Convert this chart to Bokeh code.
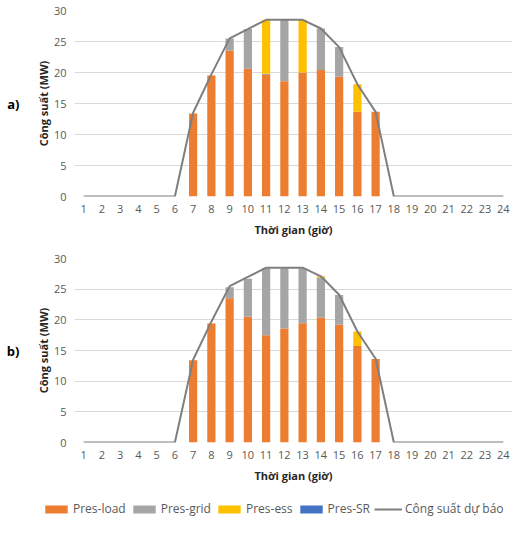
from bokeh.plotting import figure
from bokeh.models import (ColumnDataSource, Range1d, FixedTicker, Legend, LegendItem,
                          LinearAxis)
from bokeh.layouts import column
from bokeh.embed import file_html
from bokeh.resources import INLINE

# ---------------- data ----------------
hours = list(range(1, 25))
tick_labels = [str(h) for h in hours]

forecast = [0, 0, 0, 0, 0, 0, 13.5, 19.7, 25.5, 27.0, 28.5, 28.5,
            28.5, 27.1, 24.1, 18.1, 13.65, 0, 0, 0, 0, 0, 0, 0]

load_a = [0, 0, 0, 0, 0, 0, 13.4, 19.5, 23.5, 20.6, 19.6, 18.6,
          20.0, 20.4, 19.3, 13.65, 13.65, 0, 0, 0, 0, 0, 0, 0]
grid_a = [0, 0, 0, 0, 0, 0, 0, 0, 2.0, 6.4, 0.2, 9.9,
          0, 6.7, 4.8, 0, 0, 0, 0, 0, 0, 0, 0, 0]
ess_a = [0, 0, 0, 0, 0, 0, 0, 0, 0, 0, 8.7, 0,
         8.5, 0, 0, 4.45, 0, 0, 0, 0, 0, 0, 0, 0]
sr_a = [0] * 24

load_b = [0, 0, 0, 0, 0, 0, 13.4, 19.4, 23.5, 20.5, 17.5, 18.6,
          19.45, 20.35, 19.2, 15.75, 13.6, 0, 0, 0, 0, 0, 0, 0]
grid_b = [0, 0, 0, 0, 0, 0, 0, 0, 1.8, 6.2, 10.9, 9.8,
          8.95, 6.55, 4.85, 0, 0, 0, 0, 0, 0, 0, 0, 0]
ess_b = [0, 0, 0, 0, 0, 0, 0, 0, 0, 0, 0, 0,
         0, 0.2, 0, 2.35, 0, 0, 0, 0, 0, 0, 0, 0]
sr_b = [0] * 24

y_ticks = [0, 5, 10, 15, 20, 25, 30]
series_names = ["Pres-load", "Pres-grid", "Pres-ess", "Pres-SR"]
line_name = "Công suất dự báo"
colors = ["#ED7D31", "#A5A5A5", "#FFC000", "#4472C4"]
line_color = "#7F7F7F"

FONT = "Open Sans"
TXT = "#595959"
LEFT = 74


def make_panel(load, grid, ess, sr, tag, height, top, plot_h):
    src = ColumnDataSource(dict(x=hours, load=load, grid=grid, ess=ess, sr=sr,
                                fc=forecast))
    p = figure(width=512, height=height, output_backend="svg", toolbar_location=None,
               x_range=Range1d(0.5, 24.5), y_range=Range1d(0, 30),
               min_border_left=LEFT, min_border_right=0, min_border_top=top,
               min_border_bottom=height - top - plot_h)
    p.outline_line_color = None
    p.xgrid.grid_line_color = None
    p.ygrid.grid_line_color = "#D9D9D9"
    p.ygrid.grid_line_width = 1

    p.vbar_stack(["load", "grid", "ess", "sr"], x="x", width=0.45,
                 color=colors, line_color=None, source=src)
    p.line("x", "fc", source=src, line_color=line_color, line_width=2)

    p.xaxis.ticker = FixedTicker(ticks=hours)
    p.xaxis.major_label_overrides = {h: t for h, t in zip(hours, tick_labels)}
    p.yaxis.ticker = FixedTicker(ticks=y_ticks)
    for ax in (p.xaxis[0], p.yaxis[0]):
        ax.axis_line_color = None
        ax.major_tick_line_color = None
        ax.minor_tick_line_color = None
        ax.major_tick_out = 0
        ax.major_tick_in = 0
        ax.minor_tick_out = 0
        ax.major_label_text_font = FONT
        ax.major_label_text_font_size = "11px"
        ax.major_label_text_color = TXT
        ax.axis_label_text_font = FONT
        ax.axis_label_text_font_size = "11px"
        ax.axis_label_text_font_style = "bold"
        ax.axis_label_text_color = "#262626"
    p.xaxis.axis_label = "Thời gian (giờ)"
    p.xaxis.major_label_standoff = 8
    p.xaxis.axis_label_standoff = 6
    p.yaxis.axis_label = "Công suất (MW)"
    p.yaxis.major_label_standoff = 8
    p.yaxis.axis_label_standoff = 0

    # panel tag ("a)", "b)") as a horizontal axis label on an empty outer axis
    extra = LinearAxis(axis_label=tag, ticker=FixedTicker(ticks=[]),
                       axis_line_color=None, major_tick_line_color=None,
                       minor_tick_line_color=None, major_tick_out=0, major_tick_in=0,
                       minor_tick_out=0, major_label_standoff=0,
                       axis_label_standoff=13,
                       axis_label_text_font=FONT, axis_label_text_font_size="13px",
                       axis_label_text_font_style="bold",
                       axis_label_text_color="#000000")
    try:
        extra.axis_label_orientation = "horizontal"
    except Exception:
        pass
    p.add_layout(extra, "left")
    return p, src


pa, src_a = make_panel(load_a, grid_a, ess_a, sr_a, "a)", 250, 10, 186)
pb, src_b = make_panel(load_b, grid_b, ess_b, sr_b, "b)", 236, 8, 184)

# legend strip (renderers share panel b data, drawn outside the visible range)
pl = figure(width=512, height=32, output_backend="svg", toolbar_location=None,
            x_range=Range1d(100, 101), y_range=Range1d(100, 101),
            x_axis_location=None, y_axis_location=None,
            min_border_left=0, min_border_right=0, min_border_top=0, min_border_bottom=0)
try:
    pl.frame_align = False
except Exception:
    pass
pl.outline_line_color = None
pl.grid.grid_line_color = None
rs = pl.vbar_stack(["load", "grid", "ess", "sr"], x="x", width=0.45,
                   color=colors, line_color=None, source=src_b)
rl = pl.line("x", "fc", source=src_b, line_color=line_color, line_width=2)
items = [LegendItem(label=n, renderers=[r]) for n, r in zip(series_names, rs)]
items.append(LegendItem(label=line_name, renderers=[rl]))
leg = Legend(items=items, orientation="horizontal", location=(42, 1),
             label_text_font=FONT, label_text_font_size="12px",
             label_text_color=TXT, glyph_width=28, glyph_height=10,
             label_standoff=3, spacing=4, padding=2, margin=0,
             border_line_color=None, background_fill_alpha=0,
             label_height=14)
pl.add_layout(leg)

layout = column(pa, pb, pl, spacing=0)
open("out.html", "w").write(file_html(layout, INLINE))
